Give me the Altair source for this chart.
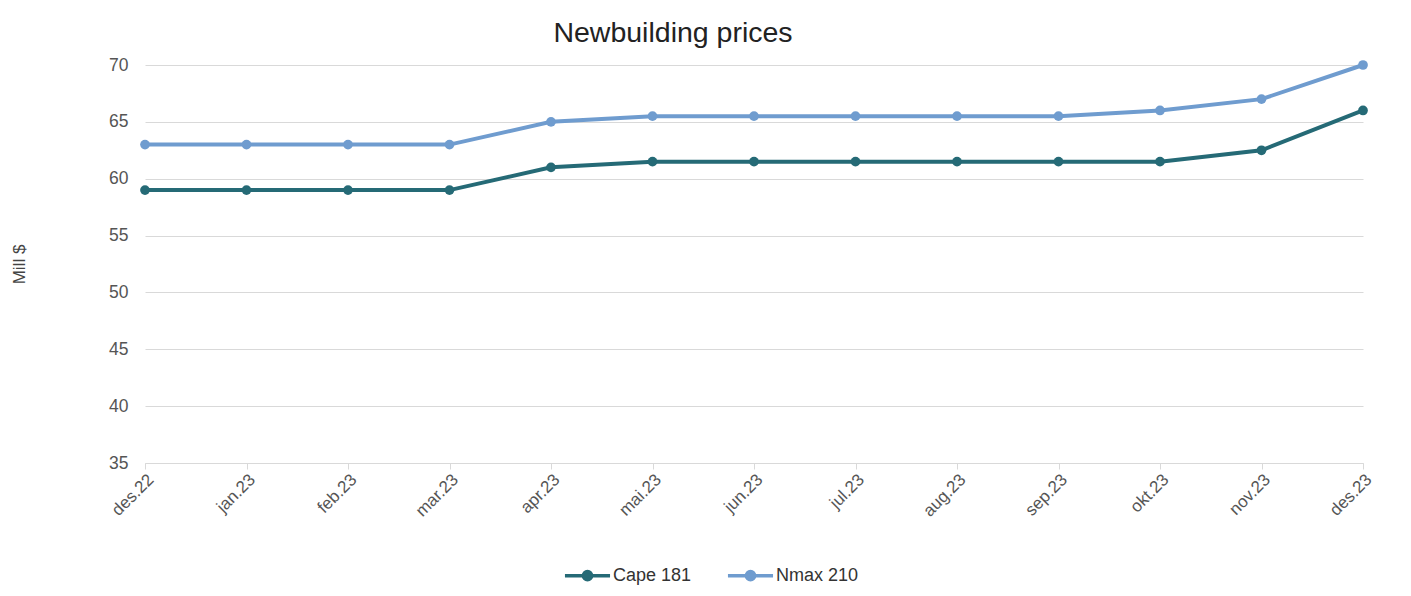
import altair as alt
import pandas as pd

months = ["des.22", "jan.23", "feb.23", "mar.23", "apr.23", "mai.23", "jun.23",
          "jul.23", "aug.23", "sep.23", "okt.23", "nov.23", "des.23"]
cape_181 = [59, 59, 59, 59, 61, 61.5, 61.5, 61.5, 61.5, 61.5, 61.5, 62.5, 66]
nmax_210 = [63, 63, 63, 63, 65, 65.5, 65.5, 65.5, 65.5, 65.5, 66, 67, 70]
series_names = ["Cape 181", "Nmax 210"]
series_colors = ["#256a76", "#6f9ccf"]

rows = []
for name, vals in zip(series_names, [cape_181, nmax_210]):
    for m, v in zip(months, vals):
        rows.append({"month": m, "series": name, "value": v})
df = pd.DataFrame(rows)

FONT = "Liberation Sans"
legend_path = ("M -1.1 0 L 1.1 0 M -0.2 0 A 0.2 0.2 0 1 1 0.2 0 "
               "A 0.2 0.2 0 1 1 -0.2 0 Z")

chart = alt.Chart(df).mark_line(
    strokeWidth=4,
    point=alt.OverlayMarkDef(filled=True, size=95, opacity=1),
).encode(
    x=alt.X("month:N", sort=months, title=None,
            scale=alt.Scale(type="point", padding=0),
            axis=alt.Axis(labelAngle=-45, labelAlign="right", labelBaseline="top",
                          labelFontSize=17, labelColor="#555555", labelFont=FONT,
                          labelPadding=2,
                          domainColor="#d9d9d9", tickColor="#d9d9d9", tickSize=6,
                          grid=False)),
    y=alt.Y("value:Q", title="Mill $",
            scale=alt.Scale(domain=[35, 70], nice=False, zero=False),
            axis=alt.Axis(values=[35, 40, 45, 50, 55, 60, 65, 70],
                          labelFontSize=17.5, labelColor="#555555", labelFont=FONT,
                          labelPadding=17, domain=False, ticks=False,
                          gridColor="#d9d9d9", gridWidth=1.2,
                          titleFont=FONT, titleFontSize=17, titleFontWeight="normal",
                          titleColor="#444444", titlePadding=80)),
    color=alt.Color("series:N", sort=series_names,
                    scale=alt.Scale(domain=series_names, range=series_colors),
                    legend=alt.Legend(title=None, orient="none", direction="horizontal",
                                      legendX=420, legendY=488,
                                      symbolType=legend_path, symbolSize=1680,
                                      symbolStrokeWidth=3.5, symbolOffset=0,
                                      labelFont=FONT, labelFontSize=18,
                                      labelColor="#333333", columnPadding=28,
                                      labelOffset=3)),
).properties(
    width=1218,
    height=398,
    title=alt.TitleParams("Newbuilding prices", font=FONT, fontSize=28.5,
                          fontWeight="normal", color="#222222",
                          anchor="middle", dx=-81, offset=9),
    autosize=alt.AutoSizeParams(type="none"),
    padding={"left": 137, "top": 57, "right": 40, "bottom": 140},
).configure_view(stroke=None)

chart.save("out.html", embed_options={"renderer": "svg", "actions": False})
